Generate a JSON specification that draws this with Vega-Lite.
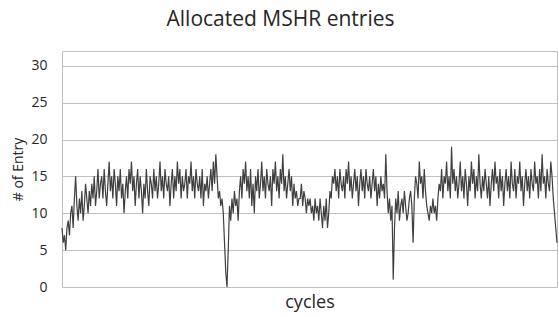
{
  "$schema": "https://vega.github.io/schema/vega-lite/v6.json",
  "autosize": "none",
  "width": 495,
  "height": 236,
  "padding": {"left": 62, "top": 51, "right": 2, "bottom": 30},
  "background": "white",
  "title": {"text": "Allocated MSHR entries", "font": "Open Sans", "fontSize": 21, "fontWeight": "normal", "color": "#262626", "anchor": "middle", "dx": -29, "offset": 21},
  "config": {"view": {"stroke": "#bfbfbf", "strokeWidth": 1}},
  "datasets": {"mshr": [
    8,6,7,5,8,9,7,10,11,8,12,15,11,9,12,10,13,9,11,14,
    12,10,13,11,14,12,15,11,13,16,12,14,15,12,16,13,11,14,17,13,
    15,12,16,14,11,15,13,16,12,14,10,13,15,12,16,14,17,13,15,11,
    14,16,12,15,13,10,14,12,16,13,11,15,14,12,16,13,15,12,14,17,
    13,15,12,16,14,13,15,11,14,16,12,15,13,17,14,16,12,15,13,14,
    16,12,15,14,17,13,15,12,16,14,13,15,12,16,11,14,13,15,12,14,
    16,13,17,14,18,15,12,13,11,12,10,6,2,0,5,11,9,12,10,13,
    11,12,9,13,15,12,16,14,17,13,15,12,16,11,14,10,15,13,16,12,
    14,17,13,15,12,16,14,13,15,11,16,14,17,13,15,12,16,14,18,13,
    15,12,14,16,13,15,11,14,12,13,11,12,12,14,11,13,12,10,12,11,
    12,10,11,9,12,10,11,9,12,10,8,11,9,12,8,10,13,12,15,14,
    16,13,15,12,16,14,13,15,12,16,14,17,13,15,12,14,16,13,15,11,
    14,16,13,15,12,16,14,13,15,12,14,16,13,15,11,14,12,15,13,14,
    12,18,13,10,12,9,11,1,8,12,10,13,9,11,12,10,13,11,9,10,
    12,13,11,6,12,15,14,12,17,14,15,12,16,13,11,10,9,11,10,12,
    10,11,9,12,14,13,16,12,15,14,17,13,15,12,19,14,16,13,15,12,
    14,17,13,15,12,16,14,11,15,13,17,14,16,12,15,13,18,14,12,15,
    13,16,14,12,15,11,14,16,13,17,14,15,12,16,13,15,11,14,16,13,
    15,12,17,14,13,16,12,15,14,17,13,15,11,14,16,13,15,12,16,14,
    13,17,14,15,12,16,13,18,14,15,12,16,14,13,17,15,12,10,8,6
  ]},
  "data": {"name": "mshr"},
  "transform": [{"window": [{"op": "row_number", "as": "cycle"}]}],
  "mark": {"type": "line", "color": "#404040", "strokeWidth": 1.2, "interpolate": "linear"},
  "encoding": {
    "x": {"field": "cycle", "type": "quantitative", "scale": {"domain": [1, 400], "nice": false, "zero": false},
      "axis": {"title": "cycles", "labels": false, "ticks": false, "domain": false, "grid": false, "titleFont": "Open Sans", "titleFontSize": 18, "titleFontWeight": "normal", "titleColor": "#262626", "titlePadding": 6}},
    "y": {"field": "data", "type": "quantitative", "scale": {"domain": [0, 32], "nice": false},
      "axis": {"title": "# of Entry", "values": [0, 5, 10, 15, 20, 25, 30], "ticks": false, "domain": false, "gridColor": "#c0c0c0", "gridWidth": 1, "labelFont": "Open Sans", "labelFontSize": 14, "labelColor": "#262626", "labelPadding": 15, "titleFont": "Open Sans", "titleFontSize": 14, "titleFontWeight": "normal", "titleColor": "#262626", "titlePadding": 5}}
  }
}
